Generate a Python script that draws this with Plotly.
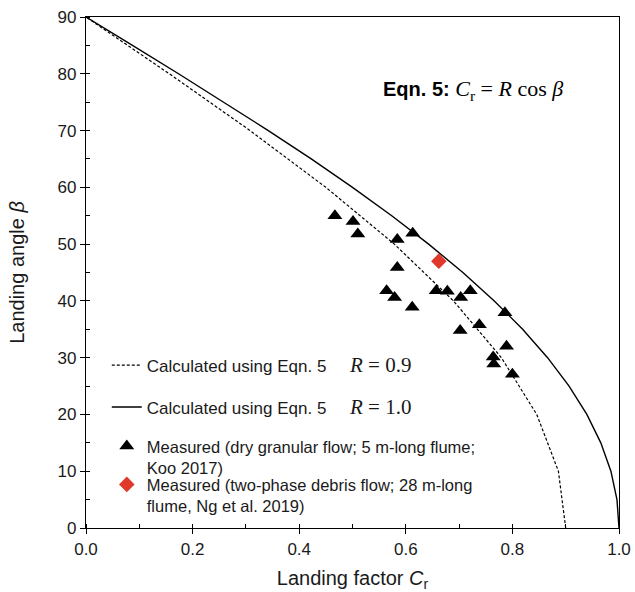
import plotly.graph_objects as go

# Calculated curves (Eqn. 5: Cr = R cos beta)
beta_r09 = [0, 10, 20, 30, 40, 50, 60, 70, 80, 90]
cr_r09 = [0.9, 0.8863, 0.8457, 0.7794, 0.6894, 0.5785, 0.45, 0.3078, 0.1563, 0.0]
beta_r10 = [0, 5, 10, 15, 20, 25, 30, 35, 40, 45, 50, 55, 60, 65, 70, 75, 80, 85, 90]
cr_r10 = [1.0, 0.9962, 0.9848, 0.9659, 0.9397, 0.9063, 0.8660, 0.8192, 0.7660, 0.7071,
          0.6428, 0.5736, 0.5, 0.4226, 0.3420, 0.2588, 0.1736, 0.0872, 0.0]

# Measured: dry granular flow (Koo 2017)
koo_cr = [0.467, 0.501, 0.510, 0.613, 0.584, 0.584, 0.564, 0.579, 0.612, 0.657,
          0.678, 0.703, 0.721, 0.786, 0.738, 0.702, 0.789, 0.764, 0.765, 0.800]
koo_beta = [55.0, 54.0, 51.8, 51.9, 50.8, 45.9, 41.8, 40.6, 38.9, 41.8,
            41.7, 40.6, 41.8, 37.9, 35.8, 34.8, 32.0, 30.1, 28.9, 27.1]

# Measured: two-phase debris flow (Ng et al. 2019)
ng_cr = [0.662]
ng_beta = [47.0]

SANS = "Liberation Sans, Arial, sans-serif"
SERIF = "Liberation Serif"
GAP = "&nbsp;" * 5

fig = go.Figure()
fig.add_trace(go.Scatter(
    x=cr_r09, y=beta_r09, mode="lines", legend="legend",
    line=dict(color="black", width=1.2, dash="3px,2px"),
    name="Calculated using Eqn. 5" + GAP + "<span style='font-family:" + SERIF + ";font-size:21px'><i>R</i> = 0.9</span>"))
fig.add_trace(go.Scatter(
    x=cr_r10, y=beta_r10, mode="lines", legend="legend2",
    line=dict(color="black", width=1.4),
    name="Calculated using Eqn. 5" + GAP + "<span style='font-family:" + SERIF + ";font-size:21px'><i>R</i> = 1.0</span>"))
fig.add_trace(go.Scatter(
    x=koo_cr, y=koo_beta, mode="markers", legend="legend3",
    marker=dict(symbol="triangle-up", color="black", size=13),
    name="Measured (dry granular flow; 5 m-long flume;<br>Koo 2017)"))
fig.add_trace(go.Scatter(
    x=ng_cr, y=ng_beta, mode="markers", legend="legend4",
    marker=dict(symbol="diamond", color="#e0392b", size=12),
    name="Measured (two-phase debris flow; 28 m-long<br>flume, Ng et al. 2019)"))

fig.add_annotation(
    x=0.553, y=0.857, xref="paper", yref="paper", xanchor="left", yanchor="middle",
    showarrow=False,
    text="<b>Eqn. 5:</b> <span style='font-family:" + SERIF + ";font-size:22px'><i>C</i><sub>r</sub> = <i>R</i> cos <i>β</i></span>",
    font=dict(family=SANS, size=20, color="black"))

axis_common = dict(
    showline=True, linecolor="black", linewidth=1.2, mirror=True,
    ticks="outside", ticklen=5, tickcolor="black", tickwidth=1,
    showgrid=False, zeroline=False, automargin=False,
    tickfont=dict(family=SANS, size=17, color="#1a1a1a"),
)

fig.update_xaxes(range=[0, 1], dtick=0.2, tickformat=".1f",
                 minor=dict(dtick=0.1, ticks="inside", ticklen=4, tickcolor="black"),
                 title=dict(text="Landing factor <i>C</i><sub>r</sub>", font=dict(family=SANS, size=20, color="#1a1a1a"), standoff=13),
                 **axis_common)
fig.update_yaxes(range=[0, 90], dtick=10,
                 minor=dict(dtick=5, ticks="inside", ticklen=4, tickcolor="black"),
                 title=dict(text="Landing angle <i>β</i>", font=dict(family=SANS, size=20, color="#1a1a1a"), standoff=27),
                 **axis_common)

leg_common = dict(x=0.039, xanchor="left", yanchor="top", bgcolor="rgba(0,0,0,0)",
                  valign="top", itemwidth=30)
font_lines = dict(family=SANS, size=17, color="#1a1a1a")
font_marks = dict(family=SANS, size=16.5, color="#1a1a1a")

fig.update_layout(
    width=635, height=592,
    margin=dict(l=86, r=16, t=17, b=64),
    plot_bgcolor="white", paper_bgcolor="white",
    showlegend=True,
    legend=dict(y=0.353, font=font_lines, **leg_common),
    legend2=dict(y=0.271, font=font_lines, **leg_common),
    legend3=dict(y=0.194, font=font_marks, **leg_common),
    legend4=dict(y=0.119, font=font_marks, **leg_common),
)

fig.write_html("out.html", config={"displayModeBar": False},
               post_script="document.body.style.margin='0px';")
